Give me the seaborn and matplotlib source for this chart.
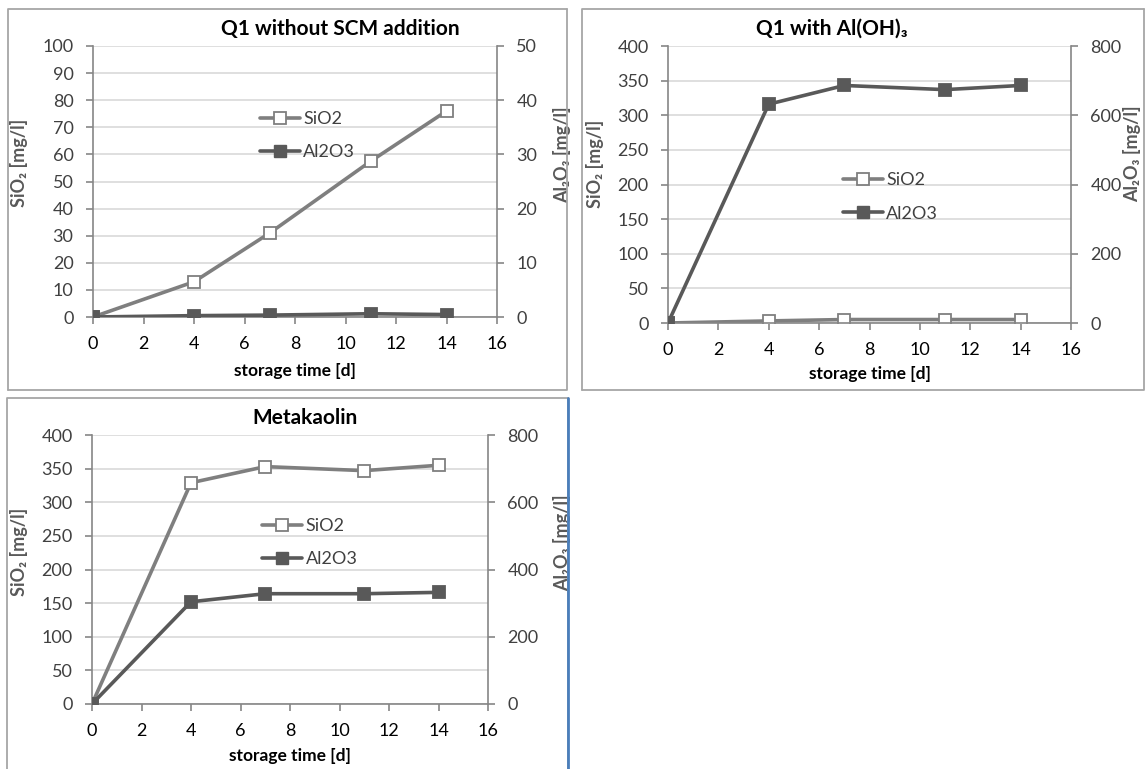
import matplotlib
matplotlib.use("Agg")
import matplotlib.pyplot as plt
import seaborn as sns
from matplotlib.lines import Line2D

# storage time [d]
days = [0, 4, 7, 11, 14]

# Q1 without SCM addition
q1_sio2 = [0, 13, 31, 57.5, 76]
q1_al2o3 = [0, 0.25, 0.35, 0.6, 0.45]

# Q1 with Al(OH)3
aloh_sio2 = [0, 3, 5, 5, 5]
aloh_al2o3 = [0, 632, 686, 674, 686]

# Metakaolin
mk_sio2 = [0, 329, 353, 347, 355]
mk_al2o3 = [0, 304, 328, 328, 332]

sns.set_style("white")
plt.rcParams["font.family"] = ["Lato", "DejaVu Sans"]

W, H = 1147, 769
fig = plt.figure(figsize=(W / 100, H / 100), dpi=100)

SI_COL = "#7f7f7f"
AL_COL = "#595959"
SPINE = "#868686"
GRID = "#d9d9d9"
TXT = "#404040"


def px_axes(l, t, r, b):
    return fig.add_axes([l / W, 1 - b / H, (r - l) / W, (b - t) / H])


def panel(ax, si, al, ylim_l, step_l, ylim_r, step_r, title, title_xy,
          ylab_l, ylab_r, leg_xy, xlab_y):
    ax2 = ax.twinx()
    sns.lineplot(x=days, y=si, ax=ax, color=SI_COL, lw=2.6, marker="s",
                 markersize=8, markerfacecolor="white",
                 markeredgecolor=SI_COL, markeredgewidth=1.3)
    sns.lineplot(x=days, y=al, ax=ax2, color=AL_COL, lw=2.6, marker="s",
                 markersize=8, markerfacecolor=AL_COL,
                 markeredgecolor=AL_COL, markeredgewidth=1.3)

    ax.set_xlim(0, 16)
    ax.set_xticks(range(0, 17, 2))
    ax.set_ylim(0, ylim_l)
    ax.set_yticks(range(0, ylim_l + 1, step_l))
    ax2.set_ylim(0, ylim_r)
    ax2.set_yticks(range(0, ylim_r + 1, step_r))

    ax.yaxis.grid(True, color=GRID, lw=1.2)
    ax.xaxis.grid(False)
    ax.set_axisbelow(True)

    for a in (ax, ax2):
        a.spines["top"].set_visible(False)
        for s in ("left", "right", "bottom"):
            a.spines[s].set_color(SPINE)
            a.spines[s].set_linewidth(1.2)
    ax.spines["right"].set_visible(False)
    ax2.spines["left"].set_visible(False)
    ax2.spines["bottom"].set_visible(False)

    ax.tick_params(axis="x", direction="out", length=5, width=1.2,
                   color=SPINE, pad=9, labelsize=13, labelcolor="black",
                   bottom=True)
    ax.tick_params(axis="y", direction="out", length=5, width=1.2,
                   color=SPINE, pad=9, labelsize=13, labelcolor=TXT,
                   left=True)
    ax2.tick_params(axis="y", direction="out", length=5, width=1.2,
                    color=SPINE, pad=9, labelsize=13, labelcolor=TXT,
                    right=True)

    ax.set_xlabel("storage time [d]", fontsize=12.5, fontweight="bold",
                  color="black")
    ax.xaxis.set_label_coords(0.5, xlab_y)
    ax.set_ylabel("SiO₂ [mg/l]", fontsize=13, fontweight="bold",
                  color=AL_COL)
    ax.yaxis.set_label_coords(*ylab_l)
    ax2.set_ylabel("Al₂O₃ [mg/l]", fontsize=13, fontweight="bold",
                   color=AL_COL)
    ax2.yaxis.set_label_coords(*ylab_r)

    for a in (ax, ax2):
        if a.get_legend() is not None:
            a.get_legend().remove()

    handles = [
        Line2D([], [], color=SI_COL, lw=2.6, marker="s", markersize=8,
               markerfacecolor="white", markeredgecolor=SI_COL,
               markeredgewidth=1.3),
        Line2D([], [], color=AL_COL, lw=2.6, marker="s", markersize=8,
               markerfacecolor=AL_COL, markeredgecolor=AL_COL),
    ]
    ax2.legend(handles, ["SiO2", "Al2O3"], loc="center left",
               bbox_to_anchor=leg_xy, frameon=False, fontsize=13,
               borderpad=0, borderaxespad=0, handlelength=2.2,
               handletextpad=0.2, labelspacing=0.95, labelcolor=TXT)

    fig.text(title_xy[0] / W, 1 - title_xy[1] / H, title, fontsize=15,
             fontweight="bold", ha="center", va="center", color="black")


# panel frames
def frame(l, t, r, b, right_col="#a6a6a6"):
    fig.add_artist(Line2D([l / W, r / W, r / W], [1 - b / H, 1 - b / H, 1 - t / H],
                          transform=fig.transFigure, color="#a6a6a6", lw=1.3))
    fig.add_artist(Line2D([l / W, l / W, r / W], [1 - b / H, 1 - t / H, 1 - t / H],
                          transform=fig.transFigure, color="#a6a6a6", lw=1.3))
    if right_col != "#a6a6a6":
        fig.add_artist(Line2D([r / W, r / W], [1 - b / H, 1 - t / H],
                              transform=fig.transFigure, color=right_col, lw=2))


frame(8, 9, 567, 390)
frame(582, 9, 1144, 390)
frame(7, 398, 568, 775, right_col="#4a7ebb")

ax_a = px_axes(93, 46, 497, 317)
panel(ax_a, q1_sio2, q1_al2o3, 100, 10, 50, 10, "Q1 without SCM addition",
      (340, 29), (-0.16, 0.57), (1.14, 0.60), (0.413, 0.67), -0.17)

ax_b = px_axes(668, 46, 1071, 323)
panel(ax_b, aloh_sio2, aloh_al2o3, 400, 50, 800, 200, "Q1 with Al(OH)₃",
      (832, 29), (-0.16, 0.574), (1.13, 0.61), (0.434, 0.455), -0.155)

ax_c = px_axes(92, 435, 488, 704)
panel(ax_c, mk_sio2, mk_al2o3, 400, 50, 800, 200, "Metakaolin",
      (305, 418), (-0.162, 0.565), (1.164, 0.60), (0.43, 0.60), -0.164)

fig.savefig("out.png", dpi=100)
